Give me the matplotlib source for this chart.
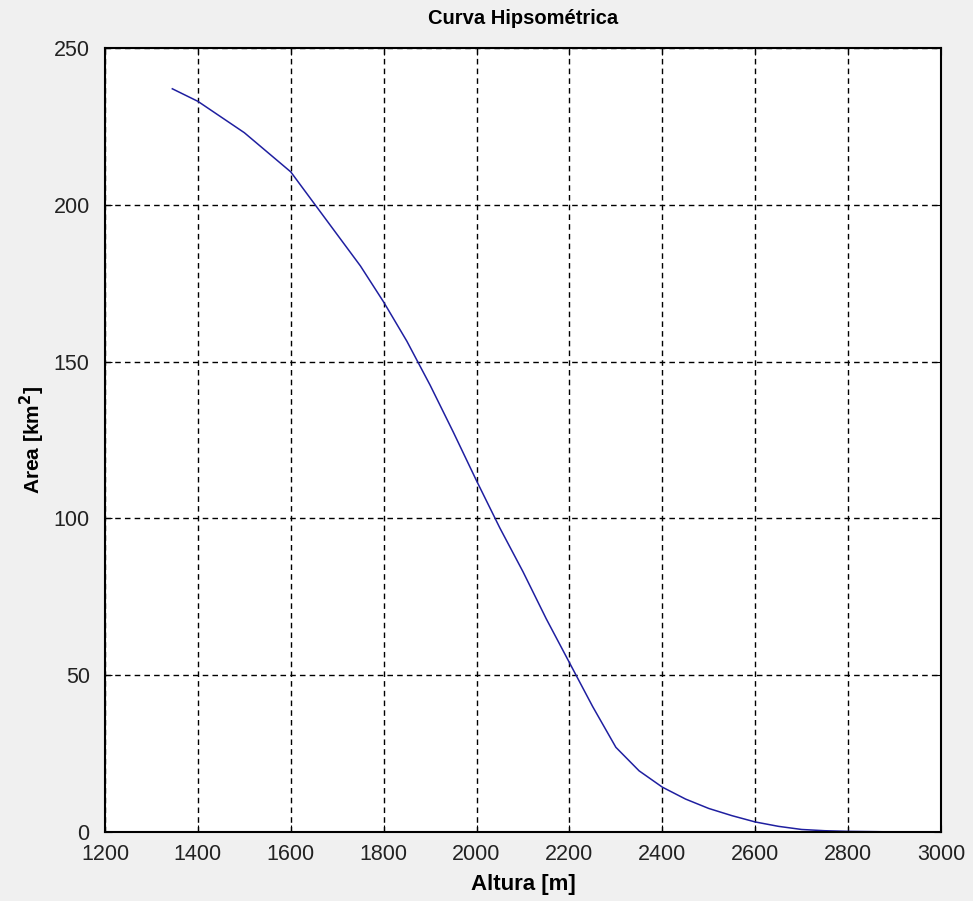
import matplotlib.pyplot as plt

# Hypsometric curve values
altura = [1345, 1400, 1500, 1600, 1650, 1700, 1750, 1800, 1850, 1900,
          1950, 2000, 2050, 2100, 2150, 2200, 2250, 2300, 2350, 2400,
          2450, 2500, 2550, 2600, 2650, 2700, 2750, 2800, 2860, 2905]
area = [237, 233, 223, 210.5, 200.5, 190.5, 180.5, 169, 156.5, 142.5,
        127.5, 112, 97, 83, 68, 54, 40, 27, 19.5, 14.3,
        10.5, 7.5, 5.2, 3.2, 1.8, 0.8, 0.4, 0.2, 0.1, 0.0]

x_ticks = [1200, 1400, 1600, 1800, 2000, 2200, 2400, 2600, 2800, 3000]
y_ticks = [0, 50, 100, 150, 200, 250]

plt.rcParams['font.family'] = ['Liberation Sans', 'DejaVu Sans']

fig = plt.figure(figsize=(9.73, 9.01), dpi=100, facecolor='#f0f0f0')
ax = fig.add_axes([0.1079, 0.0766, 0.8592, 0.8701])
ax.set_facecolor('white')

ax.plot(altura, area, color='#1f1fa0', linewidth=1.1)

ax.set_xlim(1200, 3000)
ax.set_ylim(0, 250)
ax.set_xticks(x_ticks)
ax.set_yticks(y_ticks)

ax.grid(True, color='black', linestyle=(0, (4, 3)), linewidth=1)
ax.tick_params(direction='in', top=True, right=True, length=5,
               labelsize=15.5, labelcolor='#222222')
ax.tick_params(axis='x', pad=9)
ax.tick_params(axis='y', pad=11)
for s in ax.spines.values():
    s.set_linewidth(1.5)
    s.set_color('black')
    s.set_zorder(5)

ax.set_title('Curva Hipsométrica', fontsize=14.5, fontweight='bold', pad=17)
ax.set_xlabel('Altura [m]', fontsize=16, fontweight='bold', labelpad=6)
ax.set_ylabel('Area [km$^\\mathbf{2}$]', fontsize=15, fontweight='bold', labelpad=5)

fig.savefig('out.png', dpi=100, facecolor=fig.get_facecolor())
